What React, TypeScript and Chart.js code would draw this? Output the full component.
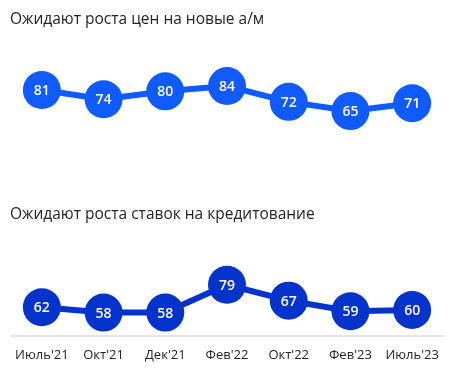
import React, { useEffect, useRef } from "react";
import { Chart, registerables } from "chart.js";

Chart.register(...registerables);

const categories = ["Июль'21", "Окт'21", "Дек'21", "Фев'22", "Окт'22", "Фев'23", "Июль'23"];
const pricesValues = [81, 74, 80, 84, 72, 65, 71];
const ratesValues = [62, 58, 58, 79, 67, 59, 60];
const title1 = "Ожидают роста цен на новые а/м";
const title2 = "Ожидают роста ставок на кредитование";

const FONT = "'Open Sans', 'DejaVu Sans', sans-serif";
const EXTRA = 30;

const labelPlugin = {
  id: "pointLabels",
  afterDatasetsDraw(chart: any) {
    const ctx = chart.ctx;
    chart.data.datasets.forEach((ds: any, di: number) => {
      const meta = chart.getDatasetMeta(di);
      ctx.save();
      ctx.fillStyle = "#ffffff";
      ctx.font = `600 14px ${FONT}`;
      ctx.textAlign = "center";
      ctx.textBaseline = "middle";
      meta.data.forEach((pt: any, i: number) => {
        ctx.fillText(String(ds.data[i]), pt.x, pt.y + 1);
      });
      ctx.restore();
    });
  },
};

function LineBlock({ values, color, showAxis, height, padding }: any) {
  const ref = useRef<HTMLCanvasElement>(null);
  const width = 452 + EXTRA * 2;
  useEffect(() => {
    const chart = new Chart(ref.current!, {
      type: "line",
      data: {
        labels: categories,
        datasets: [
          {
            data: values,
            borderColor: color,
            backgroundColor: color,
            pointBackgroundColor: color,
            pointBorderWidth: 0,
            pointRadius: 19,
            pointHoverRadius: 19,
            borderWidth: 6,
            tension: 0,
            clip: false as any,
          },
        ],
      },
      options: {
        responsive: false,
        animation: false,
        devicePixelRatio: 1,
        layout: { padding },
        plugins: { legend: { display: false }, tooltip: { enabled: false }, title: { display: false } },
        events: [],
        scales: {
          x: {
            display: showAxis,
            offset: true,
            grid: { display: false, drawTicks: false },
            border: { display: true, color: "#e6e6e6", width: 2 },
            ticks: { color: "#252423", font: { family: FONT, size: 13 }, padding: 11, maxRotation: 0, autoSkip: false },
          },
          y: { display: false, min: 40, max: 100 },
        },
      },
      plugins: [labelPlugin],
    });
    return () => chart.destroy();
  }, []);
  return <canvas ref={ref} width={width} height={height} style={{ display: "block", width, height }} />;
}

export default function App() {
  const titleStyle: React.CSSProperties = {
    position: "absolute",
    left: 10,
    fontFamily: FONT,
    fontSize: 15.5,
    color: "#252423",
    lineHeight: "22px",
    whiteSpace: "nowrap",
    zIndex: 2,
  };
  return (
    <div style={{ position: "fixed", left: 0, top: 0, width: 452, height: 389, background: "#fff", overflow: "hidden" }}>
      <div style={{ position: "absolute", left: -EXTRA, top: 0 }}>
        <LineBlock values={pricesValues} color="#0f5bff" showAxis={false} height={200} padding={{ left: 11 + EXTRA, right: 9 + EXTRA, top: 65, bottom: 56 }} />
      </div>
      <div style={{ position: "absolute", left: -EXTRA, top: 200 }}>
        <LineBlock values={ratesValues} color="#0433cc" showAxis={true} height={189} padding={{ left: 11 + EXTRA, right: 9 + EXTRA, top: 57, bottom: 15 }} />
      </div>
      <div style={{ ...titleStyle, top: 7 }}>{title1}</div>
      <div style={{ ...titleStyle, top: 202 }}>{title2}</div>
    </div>
  );
}
